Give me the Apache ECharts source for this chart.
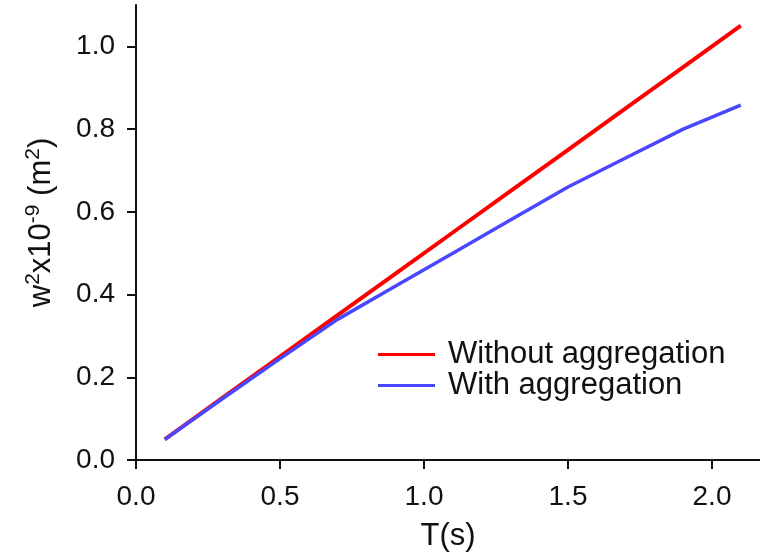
<!DOCTYPE html>
<html><head><meta charset="utf-8">
<script src="https://cdn.jsdelivr.net/npm/echarts@6/dist/echarts.min.js"></script>
<style>html,body{margin:0;padding:0;background:#fff}#c{width:760px;height:557px}</style>
</head><body><div id="c"></div>
<script>
const timeValues = [0.1, 0.3, 0.5, 0.7, 0.9, 1.1, 1.3, 1.5, 1.7, 1.9, 2.1];
const withoutAggregation = [0.05, 0.15, 0.25, 0.35, 0.45, 0.55, 0.65, 0.75, 0.85, 0.95, 1.05];
const withAggregation = [0.05, 0.148, 0.245, 0.34, 0.42, 0.5, 0.58, 0.66, 0.73, 0.80, 0.858];
const xTicks = [0, 0.5, 1.0, 1.5, 2.0];
const yTicks = [0, 0.2, 0.4, 0.6, 0.8, 1.0];
const seriesNames = ['Without aggregation', 'With aggregation'];

const font = 'Liberation Sans, Arial, sans-serif';
const chart = echarts.init(document.getElementById('c'));
chart.setOption({
  animation: false,
  grid: {left: 136, right: 0, top: 5, bottom: 97},
  legend: {
    orient: 'vertical', left: 373, top: 334, itemGap: 0, padding: 5,
    itemWidth: 57, itemHeight: 30, icon: 'path://M0,13.5 L57,13.5 L57,16.5 L0,16.5 Z',
    textStyle: {fontFamily: font, fontSize: 31, color: '#111', padding: [0, 0, 0, 8]},
    data: seriesNames
  },
  xAxis: {
    type: 'value', min: 0, max: 2.1667,
    name: 'T(s)', nameLocation: 'middle', nameGap: 61,
    nameTextStyle: {fontFamily: font, fontSize: 31, color: '#111'},
    axisLine: {lineStyle: {color: '#111', width: 2}},
    axisTick: {show: true, inside: false, length: 9, lineStyle: {width: 2, color: '#111'}, customValues: xTicks},
    axisLabel: {fontFamily: font, fontSize: 28, color: '#111', margin: 23, customValues: xTicks,
      formatter: v => v.toFixed(1)},
    splitLine: {show: false}
  },
  yAxis: {
    type: 'value', min: 0, max: 1.1,
    name: 'w{s|2}x10{s|-9} (m{s|2})', nameLocation: 'middle', nameGap: 76, nameRotate: 90,
    nameTextStyle: {fontFamily: font, fontSize: 31, color: '#111', padding: [0, 0, 0, 20],
      rich: {s: {fontFamily: font, fontSize: 21, color: '#111', verticalAlign: 'top', padding: [0,0,16,0]}}},
    axisLine: {show: true, lineStyle: {color: '#111', width: 2}},
    axisTick: {show: true, inside: false, length: 9, lineStyle: {width: 2, color: '#111'}, customValues: yTicks},
    axisLabel: {fontFamily: font, fontSize: 28, color: '#111', margin: 21, customValues: yTicks,
      formatter: v => v.toFixed(1)},
    splitLine: {show: false}
  },
  series: [
    {name: seriesNames[0], type: 'line', data: timeValues.map((t, i) => [t, withoutAggregation[i]]),
     showSymbol: false, lineStyle: {color: '#ff0000', width: 4}, itemStyle: {color: '#ff0000'}, z: 2},
    {name: seriesNames[1], type: 'line', data: timeValues.map((t, i) => [t, withAggregation[i]]),
     showSymbol: false, lineStyle: {color: '#4848ff', width: 3.5}, itemStyle: {color: '#4848ff'}, z: 3}
  ]
});
</script></body></html>
